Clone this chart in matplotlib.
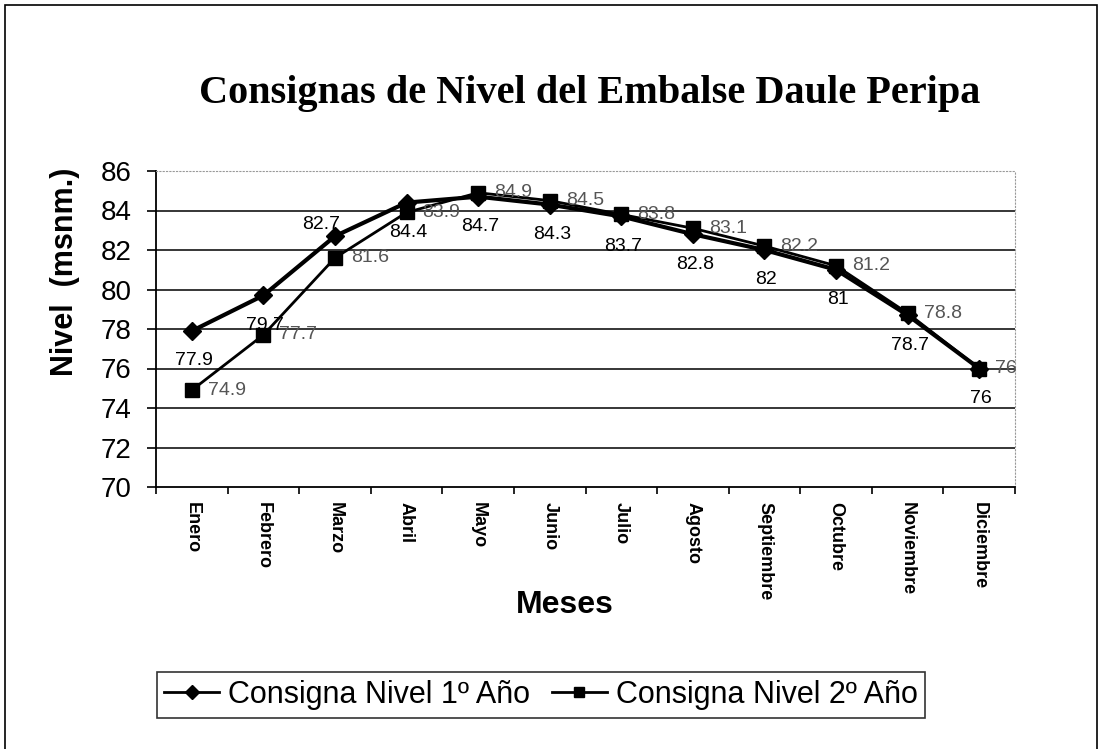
import matplotlib
matplotlib.use("Agg")
import matplotlib.pyplot as plt
import numpy as np

months = ["Enero", "Febrero", "Marzo", "Abril", "Mayo", "Junio", "Julio",
          "Agosto", "Septiembre", "Octubre", "Noviembre", "Diciembre"]
nivel_1 = [77.9, 79.7, 82.7, 84.4, 84.7, 84.3, 83.7, 82.8, 82, 81, 78.7, 76]
nivel_2 = [74.9, 77.7, 81.6, 83.9, 84.9, 84.5, 83.8, 83.1, 82.2, 81.2, 78.8, 76]
y_ticks = [70, 72, 74, 76, 78, 80, 82, 84, 86]
labels = ["Consigna Nivel 1º Año", "Consigna Nivel 2º Año"]

plt.rcParams['font.family'] = ['Liberation Sans', 'DejaVu Sans']

W, H = 1102, 749
fig = plt.figure(figsize=(W / 100, H / 100), dpi=100)
ax = fig.add_axes([156 / W, 1 - 487 / H, (1015 - 156) / W, (487 - 171) / H])

x = np.arange(len(months))

for v in y_ticks[1:-1]:
    ax.axhline(v, color='black', lw=1.1, zorder=1)

l1, = ax.plot(x, nivel_1, color='black', lw=3, marker='D', ms=9, zorder=4,
              label=labels[0])
l2, = ax.plot(x, nivel_2, color='black', lw=2, marker='s', ms=10, zorder=3,
              label=labels[1])

for i, v in enumerate(nivel_1):
    txt = f"{v:g}"
    if i == 2:
        ax.annotate(txt, (i, v), xytext=(-14, 12), textcoords='offset pixels',
                    ha='center', va='center', fontsize=14, color='black', zorder=6)
    else:
        ax.annotate(txt, (i, v), xytext=(2, -30), textcoords='offset pixels',
                    ha='center', va='center', fontsize=14, color='black', zorder=6)

for i, v in enumerate(nivel_2):
    t = ax.annotate(f"{v:g}", (i, v), xytext=(16, 0), textcoords='offset pixels',
                    ha='left', va='center', fontsize=14, color='#555555', zorder=6)
    t.set_clip_on(True)

ax.set_xlim(-0.5, len(months) - 0.5)
ax.set_ylim(70, 86)
ax.set_yticks(y_ticks)
ax.set_yticklabels([str(v) for v in y_ticks], fontsize=20)
ax.tick_params(axis='y', direction='out', length=6.5, width=1.2, pad=11)

ax.set_xticks(x)
ax.set_xticklabels(months, rotation=270, fontsize=13, fontweight='bold', va='top', ha='center')
ax.tick_params(axis='x', which='major', length=0, pad=11)
ax.set_xticks(np.arange(-0.5, len(months), 1), minor=True)
ax.tick_params(axis='x', which='minor', direction='out', length=5, width=1.2)

for s in ['top', 'right']:
    ax.spines[s].set_color('#999999')
    ax.spines[s].set_linestyle((0, (1, 2)))
    ax.spines[s].set_linewidth(0.8)
for s in ['left', 'bottom']:
    ax.spines[s].set_color('black')
    ax.spines[s].set_linewidth(1.3)

fig.text(590 / W, 1 - 94 / H, "Consignas de Nivel del Embalse Daule Peripa",
         ha='center', va='center', fontsize=29, fontweight='bold',
         family=['Liberation Serif', 'DejaVu Serif'])
fig.text(65 / W, 1 - 272 / H, "Nivel  (msnm.)", rotation=90, ha='center', va='center',
         fontsize=22, fontweight='bold')
fig.text(565 / W, 1 - 605 / H, "Meses", ha='center', va='center',
         fontsize=23, fontweight='bold')

leg = fig.legend(handles=[l1, l2], labels=labels, loc='center',
                 bbox_to_anchor=(541 / W, 1 - 695 / H), ncol=2, fontsize=22,
                 frameon=True, fancybox=False, shadow=False, handlelength=1.8,
                 handletextpad=0.3, columnspacing=0.7, borderpad=0.25,
                 borderaxespad=0, markerscale=0.75)
leg.get_frame().set_edgecolor('black')
leg.get_frame().set_linewidth(1.2)
for h in leg.legend_handles:
    h.set_linewidth(2)

border = plt.Rectangle((5 / W, -0.01), (1097 - 5) / W, 1 - 5 / H + 0.01,
                       transform=fig.transFigure, fill=False, edgecolor='black', lw=1.2)
fig.add_artist(border)

fig.savefig("out.png", dpi=100)
